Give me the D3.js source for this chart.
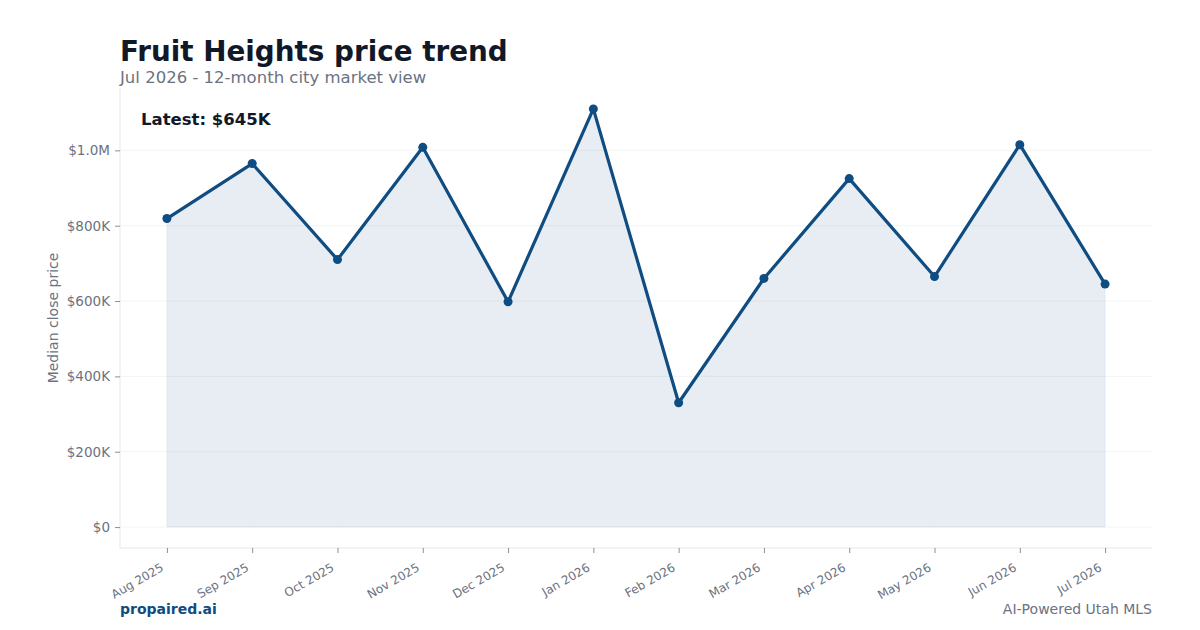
<!DOCTYPE html>
<html lang="en">
<head>
<meta charset="utf-8" />
<title>Fruit Heights price trend</title>
<script src="https://d3js.org/d3.v7.min.js"></script>
<style>
  body { margin: 0; background: #fff; }
  text { font-family: "DejaVu Sans", sans-serif; }
</style>
</head>
<body>
<svg id="chart" width="1200" height="630"></svg>
<script>
// data
const months = ["Aug 2025", "Sep 2025", "Oct 2025", "Nov 2025", "Dec 2025", "Jan 2026",
                "Feb 2026", "Mar 2026", "Apr 2026", "May 2026", "Jun 2026", "Jul 2026"];
const prices = [819000, 965000, 710000, 1008000, 598000, 1110000,
                330000, 660000, 925000, 665000, 1015000, 645000];
const yTicks = [0, 200000, 400000, 600000, 800000, 1000000];

const plotL = 120, plotR = 1152, plotT = 88, plotB = 548;
const lineColor = "#0f4c81";
const gray = "#6b7280";

const svg = d3.select("#chart");

const x = d3.scalePoint().domain(months).range([plotL, plotR]).padding(0.55);
const yMax = d3.max(prices);
const y = d3.scaleLinear().domain([-0.05 * yMax, 1.05 * yMax]).range([plotB, plotT]);

const fmt = v => v === 0 ? "$0" : v >= 1e6 ? "$" + (v / 1e6).toFixed(1) + "M" : "$" + Math.round(v / 1000) + "K";

// grid
svg.append("g").selectAll("line")
  .data(yTicks).enter().append("line")
  .attr("x1", plotL).attr("x2", plotR)
  .attr("y1", d => y(d)).attr("y2", d => y(d))
  .attr("stroke", "#e5e7eb").attr("stroke-opacity", 0.6).attr("stroke-width", 0.8);

// spines
svg.append("line").attr("x1", plotL).attr("x2", plotL).attr("y1", plotT).attr("y2", plotB)
  .attr("stroke", "#e5e7eb").attr("stroke-width", 1);
svg.append("line").attr("x1", plotL).attr("x2", plotR).attr("y1", plotB).attr("y2", plotB)
  .attr("stroke", "#e5e7eb").attr("stroke-width", 1);

// y axis
const yAxis = svg.append("g").attr("transform", `translate(${plotL},0)`)
  .call(d3.axisLeft(y).tickValues(yTicks).tickFormat(fmt).tickSize(5).tickPadding(5));
yAxis.select(".domain").remove();
yAxis.selectAll(".tick line").attr("stroke", gray).attr("stroke-width", 0.8);
yAxis.selectAll(".tick text").attr("fill", gray).style("font-size", "13.5px")
  .style("font-family", "DejaVu Sans");

// x axis
const xAxis = svg.append("g").attr("transform", `translate(0,${plotB})`)
  .call(d3.axisBottom(x).tickSize(5).tickPadding(4));
xAxis.select(".domain").remove();
xAxis.selectAll(".tick line").attr("stroke", gray).attr("stroke-width", 0.8);
xAxis.selectAll(".tick text").attr("fill", gray).style("font-size", "12px")
  .style("font-family", "DejaVu Sans")
  .attr("text-anchor", "end")
  .attr("dy", null).attr("y", 0)
  .attr("transform", "translate(-3,22) rotate(-30)");

// area + line
const area = d3.area().x((d, i) => x(months[i])).y0(y(0)).y1(d => y(d));
svg.append("path").datum(prices).attr("d", area)
  .attr("fill", lineColor).attr("fill-opacity", 0.1)
  .attr("stroke", lineColor).attr("stroke-opacity", 0.06);

const line = d3.line().x((d, i) => x(months[i])).y(d => y(d));
svg.append("path").datum(prices).attr("d", line)
  .attr("fill", "none").attr("stroke", lineColor).attr("stroke-width", 3.2)
  .attr("stroke-linejoin", "round");

svg.append("g").selectAll("circle")
  .data(prices).enter().append("circle")
  .attr("cx", (d, i) => x(months[i])).attr("cy", d => y(d)).attr("r", 4.5)
  .attr("fill", lineColor);

// y label
svg.append("text")
  .attr("transform", `translate(53,${(plotT + plotB) / 2}) rotate(-90)`)
  .attr("text-anchor", "middle").attr("dy", "0.35em")
  .attr("fill", gray).style("font-size", "14px")
  .text("Median close price");

// titles
svg.append("text").attr("x", 120).attr("y", 61)
  .attr("fill", "#111827").style("font-size", "27.8px").style("font-weight", "bold")
  .text("Fruit Heights price trend");
svg.append("text").attr("x", 120).attr("y", 83)
  .attr("fill", gray).style("font-size", "16.5px")
  .text("Jul 2026 - 12-month city market view");

svg.append("text").attr("x", 141).attr("y", 125)
  .attr("fill", "#111827").style("font-size", "16.5px").style("font-weight", "bold")
  .text("Latest: " + fmt(prices[prices.length - 1]));

// footer
svg.append("text").attr("x", 120).attr("y", 614)
  .attr("fill", lineColor).style("font-size", "14px").style("font-weight", "bold")
  .text("propaired.ai");
svg.append("text").attr("x", 1152).attr("y", 614).attr("text-anchor", "end")
  .attr("fill", gray).style("font-size", "14px")
  .text("AI-Powered Utah MLS");
</script>
</body>
</html>
